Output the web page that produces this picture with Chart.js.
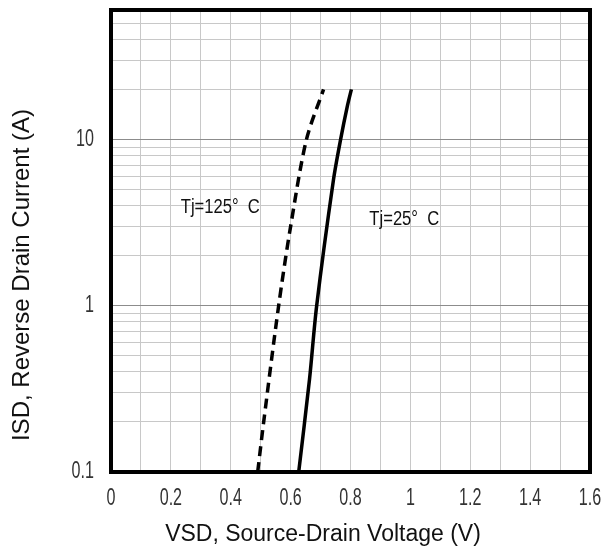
<!DOCTYPE html>
<html>
<head>
<meta charset="utf-8">
<script src="https://cdn.jsdelivr.net/npm/chart.js@4/dist/chart.umd.min.js"></script>
<style>
  html, body { margin: 0; padding: 0; background: #fff; overflow: hidden; }
  #wrap { width: 603px; height: 547px; }
  canvas { display: block; }
</style>
</head>
<body>
<div id="wrap"><canvas id="diodeChart"></canvas></div>
<script>
// Tj = 125 C (dashed) and Tj = 25 C (solid)
const vsd125 = [0.49, 0.51, 0.56, 0.60, 0.653, 0.71];
const isd125 = [0.1, 0.2, 1, 3, 10, 20];
const vsd25 = [0.627, 0.663, 0.687, 0.743, 0.767, 0.79, 0.803];
const isd25 = [0.1, 0.36, 1, 5.7, 10, 16, 20];

// axis ticks
const xGrid = [0, 0.1, 0.2, 0.3, 0.4, 0.5, 0.6, 0.7, 0.8, 0.9, 1, 1.1, 1.2, 1.3, 1.4, 1.5, 1.6];
const xLabels = [0, 0.2, 0.4, 0.6, 0.8, 1, 1.2, 1.4, 1.6];
const yGrid = [0.1, 0.2, 0.3, 0.4, 0.5, 0.6, 0.7, 0.8, 0.9,
               1, 2, 3, 4, 5, 6, 7, 8, 9,
               10, 20, 30, 40, 50];
const yLabels = [0.1, 1, 10];

const xTitle = 'VSD, Source-Drain Voltage (V)';
const yTitle = 'ISD, Reverse Drain Current (A)';

// the two Tj labels
const notes = [
  { text: 'Tj=125°  C', x: 0.233, y: 3.9 },
  { text: 'Tj=25°  C', x: 0.863, y: 3.3 }
];

function toPoints(xs, ys) {
  return xs.map((x, i) => ({ x: x, y: ys[i] }));
}

// draw text squeezed sideways, like the narrow font of the original
function narrowText(ctx, text, x, y, align, sx) {
  ctx.save();
  ctx.translate(x, y);
  ctx.scale(sx, 1);
  ctx.textAlign = align;
  ctx.fillText(text, 0, 0);
  ctx.restore();
}

// thick black frame round the plot
const framePlugin = {
  id: 'frame',
  afterDraw(chart) {
    const a = chart.chartArea;
    const ctx = chart.ctx;
    ctx.save();
    ctx.strokeStyle = '#000';
    ctx.lineWidth = 4;
    ctx.strokeRect(a.left, a.top, a.right - a.left, a.bottom - a.top);
    ctx.restore();
  }
};

const textPlugin = {
  id: 'texts',
  afterDraw(chart) {
    const ctx = chart.ctx;
    const xs = chart.scales.x, ys = chart.scales.y;
    ctx.save();
    ctx.textBaseline = 'middle';

    // tick labels
    ctx.font = "23px 'Liberation Sans', Arial, sans-serif";
    ctx.fillStyle = '#333';
    xLabels.forEach(v => narrowText(ctx, String(v), xs.getPixelForValue(v), chart.chartArea.bottom + 27, 'center', 0.7));
    yLabels.forEach(v => narrowText(ctx, String(v), chart.chartArea.left - 17, ys.getPixelForValue(v), 'right', 0.7));

    // notes
    ctx.font = "20px 'Liberation Sans', Arial, sans-serif";
    ctx.fillStyle = '#111';
    notes.forEach(n => narrowText(ctx, n.text, xs.getPixelForValue(n.x), ys.getPixelForValue(n.y), 'left', 0.83));

    // axis titles
    ctx.font = "23px 'Liberation Sans', Arial, sans-serif";
    ctx.fillStyle = '#111';
    ctx.textAlign = 'center';
    ctx.fillText(xTitle, 323, 535);
    ctx.font = "24px 'Liberation Sans', Arial, sans-serif";
    ctx.translate(22, 275);
    ctx.rotate(-Math.PI / 2);
    ctx.fillText(yTitle, 0, 0);
    ctx.restore();
  }
};

function noPad(scale) {
  scale.paddingLeft = 0;
  scale.paddingRight = 0;
  scale.paddingTop = 0;
  scale.paddingBottom = 0;
}

new Chart(document.getElementById('diodeChart'), {
  type: 'scatter',
  data: {
    datasets: [
      {
        label: 'Tj=125 C',
        data: toPoints(vsd125, isd125),
        showLine: true,
        borderColor: '#000',
        borderWidth: 3.5,
        borderDash: [10, 6],
        pointRadius: 0,
        tension: 0.3
      },
      {
        label: 'Tj=25 C',
        data: toPoints(vsd25, isd25),
        showLine: true,
        borderColor: '#000',
        borderWidth: 3.5,
        pointRadius: 0,
        tension: 0.3
      }
    ]
  },
  options: {
    responsive: true,
    maintainAspectRatio: false,
    animation: false,
    layout: { padding: { left: 0, top: 10, right: 13, bottom: 0 } },
    plugins: {
      legend: { display: false },
      tooltip: { enabled: false }
    },
    scales: {
      x: {
        type: 'linear',
        min: 0,
        max: 1.6,
        afterFit(scale) { scale.height = 75; noPad(scale); },
        afterBuildTicks(scale) {
          scale.ticks = xGrid.map(v => ({ value: v }));
        },
        grid: { color: '#c8c8c8', lineWidth: 1, drawTicks: false },
        border: { display: false },
        ticks: { display: false }
      },
      y: {
        type: 'logarithmic',
        min: 0.1,
        max: 60,
        afterFit(scale) { scale.width = 111; noPad(scale); },
        afterBuildTicks(scale) {
          scale.ticks = yGrid.map(v => ({ value: v }));
        },
        grid: {
          color(ctx) {
            const v = ctx.tick ? ctx.tick.value : 0;
            return yLabels.some(l => Math.abs(l - v) < 1e-9) ? '#8c8c8c' : '#c8c8c8';
          },
          lineWidth: 1,
          drawTicks: false
        },
        border: { display: false },
        ticks: { display: false }
      }
    }
  },
  plugins: [framePlugin, textPlugin]
});
</script>
</body>
</html>
